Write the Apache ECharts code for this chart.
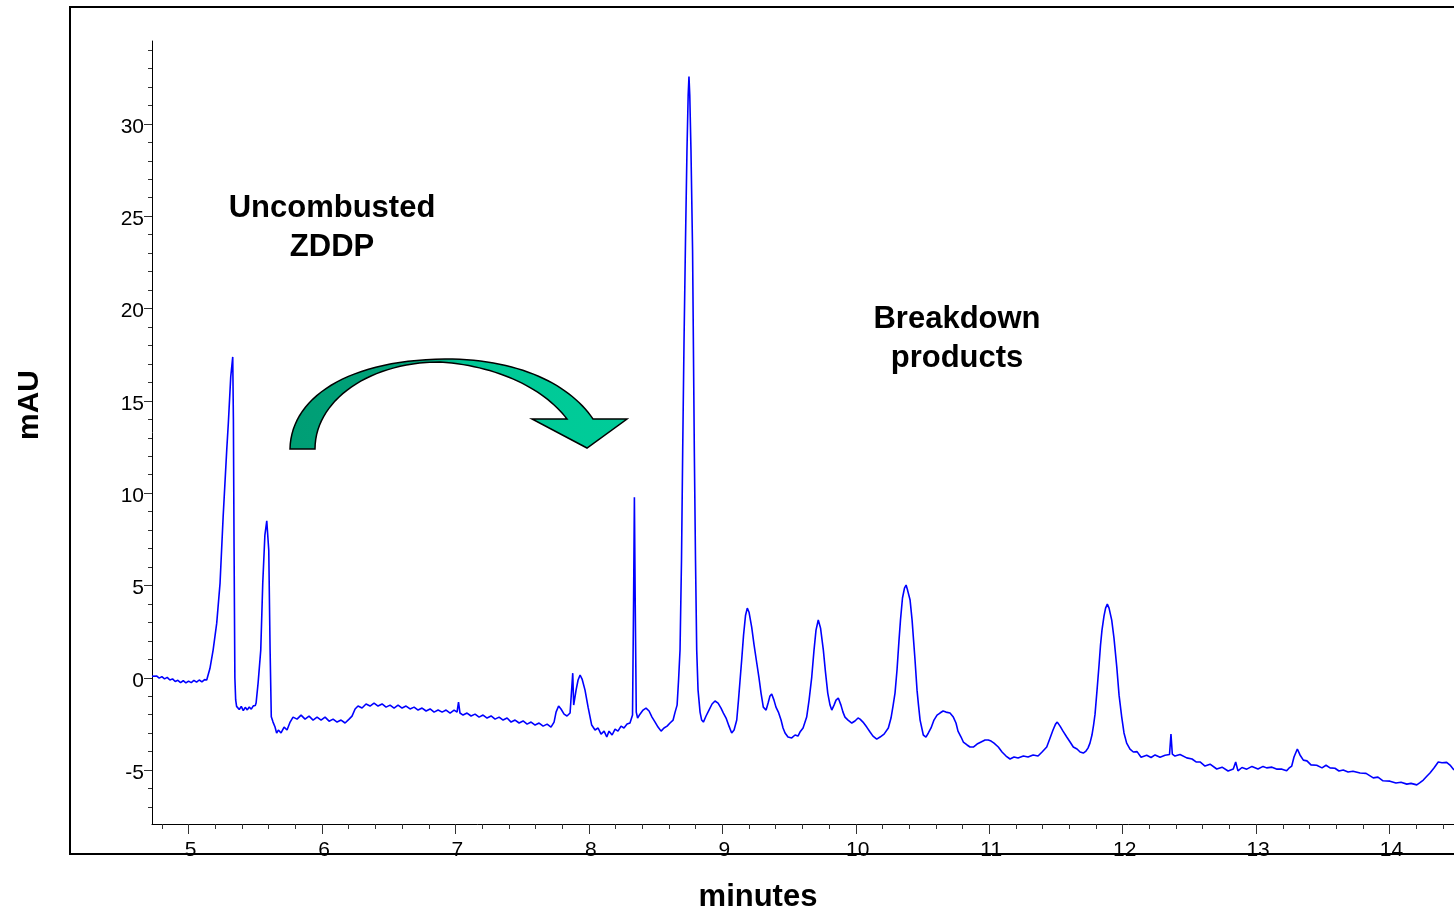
<!DOCTYPE html>
<html>
<head>
<meta charset="utf-8">
<title>ZDDP chromatogram</title>
<script src="https://cdn.jsdelivr.net/npm/echarts@6/dist/echarts.min.js"></script>
<style>
  html, body { margin: 0; padding: 0; background: #fff; }
  #chart { width: 1454px; height: 909px; }
</style>
</head>
<body>
<div id="chart"></div>
<script>
  // retention time (minutes)
  var timeMin = [
    4.726,4.74,4.76,4.78,4.80,4.82,4.84,4.86,4.88,4.90,
    4.92,4.94,4.96,4.98,5.00,5.02,5.04,5.06,5.08,5.10,
    5.12,5.136,5.16,5.184,5.211,5.236,5.259,5.286,5.298,5.316,
    5.331,5.336,5.341,5.347,5.353,5.36,5.37,5.38,5.395,5.41,
    5.425,5.44,5.455,5.47,5.485,5.50,5.506,5.521,5.541,5.556,
    5.572,5.586,5.601,5.611,5.620,5.633,5.648,5.66,5.673,5.693,
    5.716,5.738,5.761,5.783,5.813,5.843,5.873,5.903,5.933,5.963,
    5.993,6.023,6.053,6.083,6.113,6.143,6.173,6.203,6.225,6.248,
    6.270,6.300,6.330,6.360,6.390,6.420,6.450,6.480,6.510,6.540,
    6.570,6.600,6.630,6.660,6.690,6.720,6.750,6.780,6.810,6.840,
    6.870,6.900,6.930,6.960,6.990,7.012,7.023,7.034,7.057,7.087,
    7.117,7.147,7.177,7.207,7.237,7.267,7.297,7.327,7.357,7.387,
    7.417,7.447,7.477,7.507,7.537,7.567,7.597,7.627,7.657,7.687,
    7.716,7.739,7.754,7.773,7.791,7.814,7.836,7.859,7.871,7.879,
    7.886,7.904,7.919,7.934,7.949,7.971,7.994,8.021,8.046,8.069,
    8.091,8.114,8.134,8.151,8.174,8.196,8.218,8.241,8.263,8.286,
    8.308,8.327,8.335,8.341,8.347,8.355,8.365,8.383,8.406,8.428,
    8.451,8.473,8.496,8.518,8.541,8.563,8.586,8.608,8.631,8.646,
    8.661,8.672,8.683,8.694,8.703,8.713,8.724,8.735,8.744,8.750,
    8.756,8.765,8.777,8.790,8.799,8.808,8.818,8.833,8.845,8.858,
    8.878,8.900,8.923,8.945,8.968,8.990,9.008,9.028,9.050,9.070,
    9.088,9.108,9.121,9.133,9.145,9.159,9.174,9.187,9.200,9.220,
    9.238,9.258,9.275,9.290,9.307,9.328,9.343,9.357,9.370,9.387,
    9.402,9.420,9.440,9.455,9.470,9.492,9.520,9.545,9.567,9.582,
    9.605,9.632,9.650,9.670,9.687,9.702,9.719,9.736,9.757,9.773,
    9.790,9.807,9.820,9.837,9.852,9.869,9.889,9.904,9.919,9.942,
    9.970,9.994,10.017,10.032,10.054,10.082,10.107,10.129,10.157,10.182,
    10.212,10.244,10.264,10.279,10.294,10.309,10.324,10.335,10.350,10.365,
    10.377,10.388,10.407,10.422,10.433,10.444,10.459,10.470,10.482,10.506,
    10.526,10.544,10.564,10.586,10.609,10.631,10.654,10.676,10.706,10.731,
    10.751,10.766,10.789,10.806,10.834,10.856,10.881,10.909,10.939,10.969,
    10.993,11.014,11.036,11.068,11.096,11.126,11.156,11.186,11.216,11.256,
    11.291,11.329,11.366,11.396,11.431,11.456,11.478,11.497,11.510,11.531,
    11.553,11.581,11.606,11.630,11.658,11.681,11.705,11.725,11.740,11.755,
    11.770,11.782,11.793,11.808,11.823,11.834,11.845,11.860,11.872,11.885,
    11.898,11.918,11.935,11.956,11.973,11.993,12.010,12.030,12.055,12.080,
    12.108,12.138,12.180,12.213,12.243,12.280,12.318,12.351,12.362,12.372,
    12.392,12.430,12.480,12.520,12.550,12.580,12.617,12.655,12.705,12.745,
    12.790,12.829,12.847,12.864,12.894,12.930,12.969,13.014,13.052,13.079,
    13.119,13.157,13.194,13.229,13.246,13.267,13.284,13.309,13.329,13.354,
    13.381,13.411,13.454,13.494,13.524,13.554,13.591,13.621,13.653,13.689,
    13.726,13.779,13.824,13.878,13.913,13.951,14.003,14.048,14.086,14.129,
    14.161,14.204,14.228,14.253,14.281,14.303,14.333,14.365,14.393,14.428,
    14.453,14.483
  ];

  // detector signal (mAU), same order as timeMin
  var signalMAU = [
    0.08,0.0,0.1,-0.02,0.06,-0.06,0.02,-0.12,-0.06,-0.2,
    -0.14,-0.26,-0.16,-0.28,-0.18,-0.26,-0.14,-0.24,-0.12,-0.22,
    -0.1,-0.12,0.5,1.5,2.96,5.13,8.7,12.33,13.79,16.3,
    17.38,14.0,7.0,0.0,-1.2,-1.55,-1.62,-1.72,-1.55,-1.78,
    -1.6,-1.74,-1.58,-1.7,-1.52,-1.5,-1.37,-0.29,1.5,5.13,
    7.73,8.5,6.91,1.5,-2.11,-2.4,-2.67,-3.0,-2.83,-2.99,
    -2.67,-2.83,-2.4,-2.13,-2.24,-2.02,-2.24,-2.08,-2.29,-2.13,
    -2.29,-2.13,-2.35,-2.24,-2.4,-2.29,-2.45,-2.24,-2.08,-1.69,
    -1.53,-1.64,-1.42,-1.53,-1.37,-1.53,-1.42,-1.59,-1.48,-1.64,
    -1.48,-1.64,-1.53,-1.69,-1.59,-1.75,-1.64,-1.8,-1.69,-1.86,
    -1.75,-1.86,-1.75,-1.91,-1.75,-1.86,-1.32,-1.91,-2.02,-1.91,
    -2.07,-1.97,-2.13,-2.02,-2.18,-2.07,-2.24,-2.13,-2.29,-2.18,
    -2.4,-2.29,-2.45,-2.34,-2.51,-2.4,-2.56,-2.45,-2.62,-2.51,
    -2.67,-2.4,-1.86,-1.53,-1.69,-1.97,-2.07,-1.91,-1.86,0.25,
    -1.48,-0.67,-0.12,0.15,-0.07,-0.67,-1.59,-2.56,-2.83,-2.72,
    -3.05,-2.89,-3.21,-2.89,-3.1,-2.78,-2.89,-2.62,-2.72,-2.51,
    -2.45,-2.02,4.21,9.78,4.21,-1.86,-2.18,-1.97,-1.75,-1.64,
    -1.8,-2.13,-2.4,-2.67,-2.89,-2.72,-2.62,-2.45,-2.29,-1.86,
    -1.48,-0.12,1.5,6.37,12.33,18.28,23.7,28.57,31.55,32.57,
    31.55,28.57,23.16,12.33,6.37,1.5,-0.67,-1.86,-2.29,-2.4,
    -2.07,-1.75,-1.42,-1.26,-1.37,-1.64,-1.91,-2.18,-2.62,-2.99,
    -2.83,-2.29,-1.21,-0.12,0.96,2.31,3.39,3.77,3.55,2.74,
    1.77,0.8,-0.02,-0.83,-1.59,-1.75,-1.37,-0.99,-0.88,-1.21,
    -1.59,-1.86,-2.29,-2.72,-2.99,-3.21,-3.26,-3.1,-3.16,-2.94,
    -2.72,-2.13,-1.21,0.04,1.5,2.58,3.13,2.69,1.5,0.31,
    -0.83,-1.48,-1.75,-1.48,-1.21,-1.1,-1.48,-1.86,-2.13,-2.29,
    -2.45,-2.34,-2.18,-2.24,-2.4,-2.67,-2.94,-3.16,-3.32,-3.21,
    -3.05,-2.72,-2.18,-1.53,-0.83,0.42,2.04,3.12,4.32,4.86,
    5.02,4.75,4.21,3.12,2.04,0.96,-0.67,-1.48,-2.29,-3.1,
    -3.21,-2.99,-2.72,-2.29,-2.02,-1.91,-1.8,-1.86,-1.91,-2.13,
    -2.45,-2.89,-3.21,-3.48,-3.64,-3.75,-3.75,-3.59,-3.48,-3.37,
    -3.37,-3.43,-3.54,-3.75,-4.02,-4.24,-4.4,-4.29,-4.35,-4.24,
    -4.29,-4.18,-4.24,-4.02,-3.75,-3.26,-2.83,-2.51,-2.4,-2.62,
    -2.89,-3.21,-3.48,-3.75,-3.86,-4.02,-4.08,-3.97,-3.81,-3.54,
    -3.1,-2.56,-1.97,-0.67,0.69,1.77,2.58,3.34,3.77,3.99,
    3.77,3.12,2.15,0.58,-0.94,-2.13,-2.99,-3.54,-3.86,-4.02,
    -4.0,-4.3,-4.2,-4.32,-4.18,-4.3,-4.2,-4.16,-3.05,-4.13,
    -4.24,-4.16,-4.34,-4.4,-4.56,-4.56,-4.78,-4.68,-4.94,-4.84,
    -5.05,-4.94,-4.56,-5.04,-4.86,-4.95,-4.8,-4.94,-4.8,-4.88,
    -4.84,-4.95,-4.95,-5.04,-4.9,-4.78,-4.29,-3.86,-4.18,-4.46,
    -4.5,-4.72,-4.74,-4.88,-4.74,-4.88,-4.9,-5.05,-5.0,-5.1,
    -5.06,-5.16,-5.18,-5.42,-5.38,-5.58,-5.6,-5.7,-5.66,-5.76,
    -5.72,-5.8,-5.68,-5.54,-5.32,-5.16,-4.89,-4.56,-4.6,-4.58,
    -4.73,-5.0
  ];

  // axis ticks and labels (labelled values get the long ticks)
  var xLabels = [5, 6, 7, 8, 9, 10, 11, 12, 13, 14];
  var xTicks = [4.8, 5.0, 5.2, 5.4, 5.6, 5.8, 6.0, 6.2, 6.4, 6.6, 6.8, 7.0, 7.2, 7.4, 7.6, 7.8,
    8.0, 8.2, 8.4, 8.6, 8.8, 9.0, 9.2, 9.4, 9.6, 9.8, 10.0, 10.2, 10.4, 10.6, 10.8, 11.0,
    11.2, 11.4, 11.6, 11.8, 12.0, 12.2, 12.4, 12.6, 12.8, 13.0, 13.2, 13.4, 13.6, 13.8, 14.0,
    14.2, 14.4];
  var yLabels = [-5, 0, 5, 10, 15, 20, 25, 30];
  var yTicks = [-7, -6, -5, -4, -3, -2, -1, 0, 1, 2, 3, 4, 5, 6, 7, 8, 9, 10, 11, 12, 13, 14,
    15, 16, 17, 18, 19, 20, 21, 22, 23, 24, 25, 26, 27, 28, 29, 30, 31, 32, 33, 34];

  var annotations = [
    { lines: ['Uncombusted', 'ZDDP'], x: 332, y: 208 },
    { lines: ['Breakdown', 'products'], x: 957, y: 319 }
  ];

  var seriesData = [];
  for (var i = 0; i < timeMin.length; i++) {
    seriesData.push([timeMin[i], signalMAU[i]]);
  }

  // outline of the curved arrow, built from cubic bezier pieces (pixel space)
  function bezier(p0, p1, p2, p3, steps, out) {
    for (var s = 1; s <= steps; s++) {
      var t = s / steps, u = 1 - t;
      out.push([
        u * u * u * p0[0] + 3 * u * u * t * p1[0] + 3 * u * t * t * p2[0] + t * t * t * p3[0],
        u * u * u * p0[1] + 3 * u * u * t * p1[1] + 3 * u * t * t * p2[1] + t * t * t * p3[1]
      ]);
    }
  }
  var arrowPts = [[290, 449]];
  bezier([290, 449], [291, 398], [347, 360], [445, 359], 30, arrowPts);
  bezier([445, 359], [520, 359], [570, 385], [593, 419], 30, arrowPts);
  arrowPts.push([627, 419], [587, 448], [532, 419], [567, 419]);
  bezier([567, 419], [545, 390], [500, 366], [440, 362], 30, arrowPts);
  bezier([440, 362], [370, 362], [315, 400], [315, 449], 30, arrowPts);

  var chart = echarts.init(document.getElementById('chart'));

  var fontFamily = '"Liberation Sans", Arial, sans-serif';
  var boldFont = 'bold 31px ' + fontFamily;
  var graphics = [
    // outer frame
    {
      type: 'rect',
      shape: { x: 70, y: 7, width: 1420, height: 847 },
      style: { fill: 'none', stroke: '#000', lineWidth: 2 },
      silent: true
    },
    {
      type: 'polygon',
      shape: { points: arrowPts },
      style: {
        fill: new echarts.graphic.LinearGradient(0, 0, 1, 0, [
          { offset: 0, color: '#009e75' },
          { offset: 0.42, color: '#00a47b' },
          { offset: 0.52, color: '#00c896' },
          { offset: 1, color: '#00cc99' }
        ]),
        stroke: '#000',
        lineWidth: 1.5
      },
      silent: true
    },
    {
      type: 'text',
      x: 30, y: 405, rotation: Math.PI / 2,
      style: { text: 'mAU', font: 'bold 30px ' + fontFamily, fill: '#000', textAlign: 'center', textVerticalAlign: 'middle' }
    },
    {
      type: 'text',
      x: 758, y: 897,
      style: { text: 'minutes', font: boldFont, fill: '#000', textAlign: 'center', textVerticalAlign: 'middle' }
    }
  ];
  annotations.forEach(function (a) {
    a.lines.forEach(function (line, k) {
      graphics.push({
        type: 'text',
        x: a.x, y: a.y + k * 39,
        style: { text: line, font: boldFont, fill: '#000', textAlign: 'center', textVerticalAlign: 'middle' }
      });
    });
  });

  var xRange = { min: 4.726, max: 14.483 };
  var yRange = { min: -7.92, max: 34.49 };

  chart.setOption({
    animation: false,
    backgroundColor: '#fff',
    grid: { left: 152, right: 0, top: 41, bottom: 85 },
    xAxis: [{
      type: 'value',
      position: 'bottom',
      min: xRange.min,
      max: xRange.max,
      axisLine: { show: true, onZero: false, lineStyle: { color: '#000', width: 1 } },
      axisTick: { show: true, customValues: xTicks, length: 5, lineStyle: { color: '#333' } },
      axisLabel: { customValues: xLabels, margin: 16, fontSize: 21, color: '#000', fontFamily: fontFamily, padding: [0, 0, 0, 4] },
      splitLine: { show: false }
    }, {
      type: 'value',
      position: 'bottom',
      min: xRange.min,
      max: xRange.max,
      axisLine: { show: false, onZero: false },
      axisTick: { show: true, customValues: xLabels, length: 10, lineStyle: { color: '#333' } },
      axisLabel: { show: false },
      splitLine: { show: false }
    }],
    yAxis: [{
      type: 'value',
      position: 'left',
      min: yRange.min,
      max: yRange.max,
      axisLine: { show: true, onZero: false, lineStyle: { color: '#000', width: 1 } },
      axisTick: { show: true, customValues: yTicks, length: 4, lineStyle: { color: '#333' } },
      axisLabel: {
        customValues: yLabels, margin: 8, fontSize: 21, color: '#000', fontFamily: fontFamily,
        verticalAlign: 'top', lineHeight: 6
      },
      splitLine: { show: false }
    }, {
      type: 'value',
      position: 'left',
      min: yRange.min,
      max: yRange.max,
      axisLine: { show: false, onZero: false },
      axisTick: { show: true, customValues: yLabels, length: 8, lineStyle: { color: '#333' } },
      axisLabel: { show: false },
      splitLine: { show: false }
    }],
    series: [{
      type: 'line',
      xAxisIndex: 0,
      yAxisIndex: 0,
      data: seriesData,
      showSymbol: false,
      symbol: 'none',
      lineStyle: { color: '#0000ff', width: 1.6 },
      clip: true
    }],
    graphic: graphics
  });
</script>
</body>
</html>
